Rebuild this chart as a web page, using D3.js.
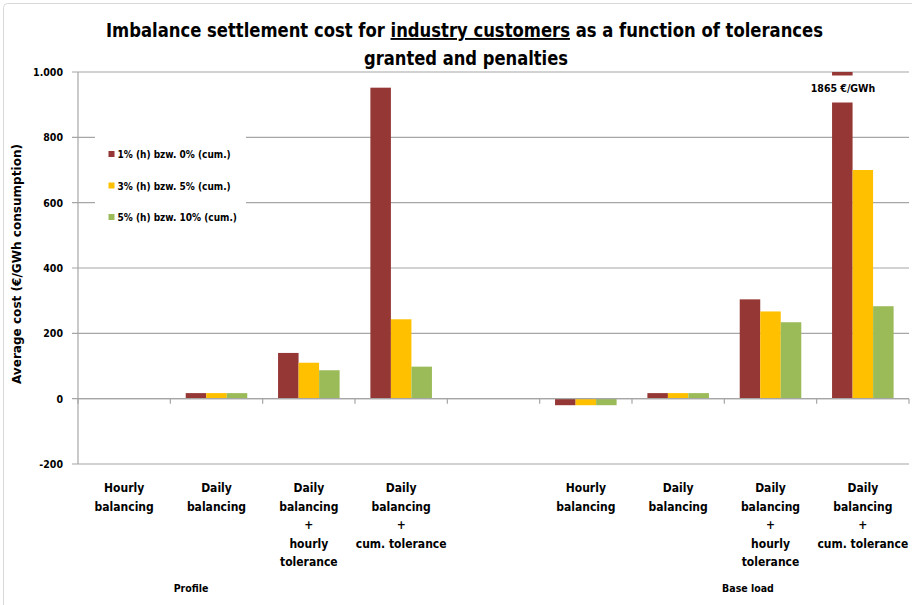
<!DOCTYPE html>
<html><head><meta charset="utf-8">
<script src="https://cdn.jsdelivr.net/npm/d3@7"></script>
<style>
body{margin:0;background:#fff;}
text{font-family:"Liberation Sans Narrow","DejaVu Sans Condensed","Liberation Sans",sans-serif;font-weight:bold;fill:#000;}
</style></head>
<body><svg id="c" width="912" height="605"></svg>
<script>
const categories = [
  ["Hourly","balancing"],
  ["Daily","balancing"],
  ["Daily","balancing","+","hourly","tolerance"],
  ["Daily","balancing","+","cum. tolerance"],
  [],
  ["Hourly","balancing"],
  ["Daily","balancing"],
  ["Daily","balancing","+","hourly","tolerance"],
  ["Daily","balancing","+","cum. tolerance"]
];
const groups = ["Profile","Base load"];
const seriesNames = ["1% (h) bzw. 0% (cum.)","3% (h) bzw. 5% (cum.)","5% (h) bzw. 10% (cum.)"];
const s1 = [0, 17, 140, 952, null, -20, 17, 304, 1865];
const s2 = [0, 17, 110, 243, null, -20, 17, 267, 700];
const s3 = [0, 17, 87, 98, null, -20, 17, 234, 283];
const yTicks = [-200, 0, 200, 400, 600, 800, 1000];
const yTickLabels = ["-200","0","200","400","600","800","1.000"];
const colors = ["#953735","#FFC000","#9BBB59"];
const series = [s1, s2, s3];

const svg = d3.select("#c");
const L = 78, R = 909, T = 72, B = 464;

// chart border
svg.append("rect").attr("x",3.5).attr("y",3.5).attr("width",920).attr("height",620)
  .attr("rx",4).attr("fill","none").attr("stroke","#d9d9d9");

const x = d3.scaleBand().domain(d3.range(categories.length)).range([L, R]).padding(0);
const x1 = d3.scaleBand().domain(d3.range(3)).range([0, x.bandwidth()]).paddingInner(0).paddingOuter(0.75);
const y = d3.scaleLinear().domain([-200, 1000]).range([B, T]);

// gridlines
svg.append("g").selectAll("line").data(yTicks).join("line")
  .attr("x1", L - 6).attr("x2", R).attr("y1", d => y(d)).attr("y2", d => y(d))
  .attr("stroke", "#a6a6a6").attr("stroke-width", 1.2);

// y axis line
svg.append("line").attr("x1",L).attr("x2",L).attr("y1",T).attr("y2",B).attr("stroke","#a6a6a6").attr("stroke-width",1.2);

// y tick labels
svg.append("g").selectAll("text").data(yTicks).join("text")
  .attr("x", 63).attr("y", d => y(d) + 4).attr("text-anchor","end")
  .style("font-size","10.5px").text((d,i) => yTickLabels[i]);

// clip
svg.append("clipPath").attr("id","plot").append("rect").attr("x",L).attr("y",T).attr("width",R-L).attr("height",B-T);

// bars
const bars = svg.append("g").attr("clip-path","url(#plot)");
series.forEach((s, si) => {
  bars.append("g").selectAll("rect").data(s.map((v,i)=>({v,i})).filter(d => d.v !== null && d.v !== 0)).join("rect")
    .attr("x", d => x(d.i) + x1(si))
    .attr("width", x1.bandwidth())
    .attr("y", d => y(Math.max(0, d.v)))
    .attr("height", d => Math.abs(y(d.v) - y(0)))
    .attr("fill", colors[si]);
});

// x axis line at zero + ticks
svg.append("line").attr("x1",L).attr("x2",R).attr("y1",y(0)).attr("y2",y(0)).attr("stroke","#a6a6a6").attr("stroke-width",1.2);
svg.append("g").selectAll("line").data(d3.range(categories.length + 1)).join("line")
  .attr("x1", i => L + i * x.step()).attr("x2", i => L + i * x.step())
  .attr("y1", y(0)).attr("y2", y(0) + 5).attr("stroke","#a6a6a6").attr("stroke-width",1.2);

// category labels
const cl = svg.append("g");
categories.forEach((lines, i) => {
  const t = cl.append("text").attr("text-anchor","middle").style("font-size","12px");
  lines.forEach((ln, j) => {
    t.append("tspan").attr("x", x(i) + x.bandwidth()/2).attr("y", 492 + j*18.6).text(ln);
  });
});

// group labels
svg.append("text").attr("x",191).attr("y",592).attr("text-anchor","middle").style("font-size","10.5px").text(groups[0]);
svg.append("text").attr("x",748).attr("y",592).attr("text-anchor","middle").style("font-size","10.5px").text(groups[1]);

// legend
const lg = svg.append("g");
lg.append("rect").attr("x",95).attr("y",128).attr("width",151).attr("height",100).attr("fill","#fff");
seriesNames.forEach((n, i) => {
  const yy = 154 + i*31.5;
  lg.append("rect").attr("x",108.5).attr("y",yy-3).attr("width",6).attr("height",6).attr("fill",colors[i]);
  lg.append("text").attr("x",117.5).attr("y",yy+4).style("font-size","10px").text(n);
});

// value label for truncated bar
svg.append("rect").attr("x",800).attr("y",75.5).attr("width",86).attr("height",27).attr("fill","#fff");
svg.append("text").attr("x",843).attr("y",92).attr("text-anchor","middle").style("font-size","10.5px")
  .text(s1[8] + " €/GWh");

// y-axis title
svg.append("text").attr("transform","translate(21,264) rotate(-90)").attr("text-anchor","middle")
  .style("font-size","12px").attr("textLength",240).attr("lengthAdjust","spacingAndGlyphs")
  .text("Average cost (€/GWh consumption)");

// title
const t1 = svg.append("text").attr("x",106).attr("y",37).style("font-size","19px")
  .attr("textLength",717).attr("lengthAdjust","spacingAndGlyphs");
t1.append("tspan").text("Imbalance settlement cost for ");
t1.append("tspan").style("text-decoration","underline").text("industry customers");
t1.append("tspan").text(" as a function of tolerances");
svg.append("text").attr("x",364).attr("y",65).style("font-size","19px")
  .attr("textLength",204).attr("lengthAdjust","spacingAndGlyphs").text("granted and penalties");
</script>
</body></html>
